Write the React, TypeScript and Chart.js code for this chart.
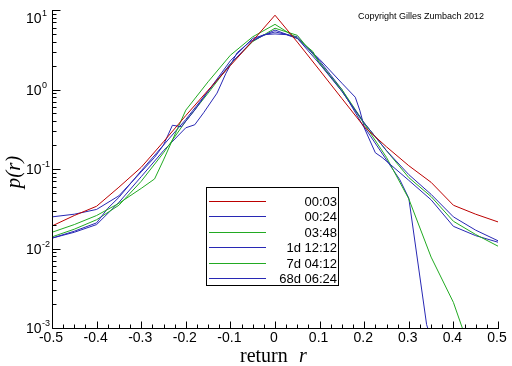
import React, { useEffect, useRef } from 'react';
import { Chart, registerables } from 'chart.js';

Chart.register(...registerables);

// ---- data ----
const seriesLabels = ['00:03', '00:24', '03:48', '1d 12:12', '7d 04:12', '68d 06:24'];
const seriesColors = ['#bc0000', '#2828b4', '#22aa22', '#2828b4', '#22aa22', '#2828b4'];

const r0003 = [-0.5, -0.45, -0.4, -0.35, -0.3, -0.25, -0.2, -0.15, -0.1, -0.05, 0, 0.05, 0.1, 0.15, 0.2, 0.25, 0.3, 0.35, 0.4, 0.45, 0.5];
const p0003 = [0.0192, 0.026, 0.034, 0.059, 0.105, 0.22, 0.47, 0.98, 2.0, 4.1, 8.6, 3.95, 1.75, 0.77, 0.34, 0.19, 0.11, 0.068, 0.035, 0.027, 0.0216];

const r0024 = [-0.5, -0.45, -0.4, -0.35, -0.3, -0.27, -0.25, -0.23, -0.21, -0.18, -0.15, -0.1, -0.05, 0, 0.05, 0.1, 0.15, 0.2, 0.25, 0.3, 0.35, 0.4, 0.45, 0.5];
const p0024 = [0.025, 0.027, 0.031, 0.046, 0.092, 0.14, 0.2, 0.355, 0.34, 0.55, 0.95, 2.1, 4.1, 5.6, 4.4, 2.1, 0.95, 0.38, 0.17, 0.085, 0.048, 0.025, 0.017, 0.0125];

const r0348 = [-0.5, -0.45, -0.4, -0.35, -0.3, -0.27, -0.25, -0.2, -0.15, -0.1, -0.05, 0, 0.05, 0.085, 0.1, 0.15, 0.2, 0.25, 0.3, 0.35, 0.4, 0.45, 0.5];
const p0348 = [0.016, 0.02, 0.026, 0.037, 0.057, 0.075, 0.13, 0.55, 1.25, 2.7, 4.6, 6.6, 4.4, 3.0, 2.1, 1.0, 0.38, 0.17, 0.078, 0.045, 0.022, 0.015, 0.0107];

const r1d = [-0.5, -0.45, -0.4, -0.375, -0.35, -0.3, -0.25, -0.2, -0.15, -0.1, -0.05, 0, 0.05, 0.1, 0.15, 0.2, 0.225, 0.24, 0.3, 0.35, 0.4, 0.45, 0.5];
const p1d = [0.0135, 0.0165, 0.021, 0.032, 0.044, 0.095, 0.2, 0.42, 0.95, 2.3, 4.4, 5.3, 4.6, 2.3, 1.0, 0.33, 0.16, 0.14, 0.072, 0.041, 0.019, 0.0145, 0.012];

const r7d = [-0.5, -0.45, -0.4, -0.35, -0.3, -0.25, -0.2, -0.15, -0.1, -0.05, 0, 0.05, 0.1, 0.15, 0.2, 0.25, 0.3, 0.35, 0.4, 0.42, 0.45];
const p7d = [0.014, 0.0175, 0.023, 0.035, 0.07, 0.16, 0.4, 0.9, 2.1, 4.0, 5.9, 4.8, 2.2, 0.95, 0.37, 0.14, 0.042, 0.0078, 0.0021, 0.001, 0.0004];

const r68d = [-0.5, -0.45, -0.4, -0.35, -0.3, -0.25, -0.2, -0.18, -0.16, -0.13, -0.11, -0.085, -0.056, -0.025, 0, 0.025, 0.05, 0.1, 0.15, 0.18, 0.19, 0.2, 0.25, 0.28, 0.3, 0.34, 0.36];
const p68d = [0.0135, 0.016, 0.02, 0.038, 0.08, 0.17, 0.33, 0.36, 0.51, 0.9, 1.6, 2.9, 4.0, 4.9, 5.0, 4.9, 4.4, 2.4, 1.2, 0.8, 0.55, 0.34, 0.13, 0.073, 0.043, 0.0011, 0.0005];

const seriesR = [r0003, r0024, r0348, r1d, r7d, r68d];
const seriesP = [p0003, p0024, p0348, p1d, p7d, p68d];

const xTickValues = [-0.5, -0.4, -0.3, -0.2, -0.1, 0, 0.1, 0.2, 0.3, 0.4, 0.5];
const xTickLabels = ['-0.5', '-0.4', '-0.3', '-0.2', '-0.1', '0', '0.1', '0.2', '0.3', '0.4', '0.5'];
const yTickValues = [0.001, 0.01, 0.1, 1, 10];
const yTickExponents = ['-3', '-2', '-1', '0', '1'];

const copyrightText = 'Copyright Gilles Zumbach 2012';
const xTitle = 'return';
const xTitleVar = 'r';
const yTitle = 'p(r)';

const decorPlugin = {
  id: 'decor',
  afterDraw(chart: any) {
    const ctx = chart.ctx as CanvasRenderingContext2D;
    const a = chart.chartArea;
    const xs = chart.scales.x;
    const ys = chart.scales.y;
    ctx.save();
    ctx.strokeStyle = '#000';
    ctx.fillStyle = '#000';
    ctx.lineWidth = 1;
    const L = Math.round(a.left) + 0.5;
    const B = Math.round(a.bottom) + 0.5;
    // axis lines
    ctx.beginPath();
    ctx.moveTo(L, Math.round(a.top));
    ctx.lineTo(L, B);
    ctx.lineTo(Math.round(a.right) + 1, B);
    ctx.stroke();
    // y ticks
    ctx.beginPath();
    yTickValues.forEach((d, i) => {
      const y = Math.round(ys.getPixelForValue(d)) + 0.5;
      ctx.moveTo(L, y);
      ctx.lineTo(L + 8, y);
      if (i < yTickValues.length - 1) {
        for (let k = 2; k <= 9; k++) {
          const ym = Math.round(ys.getPixelForValue(d * k)) + 0.5;
          ctx.moveTo(L, ym);
          ctx.lineTo(L + 4, ym);
        }
      }
    });
    // x ticks
    xTickValues.forEach((v, i) => {
      const x = Math.round(xs.getPixelForValue(v)) + 0.5;
      ctx.moveTo(x, B);
      ctx.lineTo(x, B - 7);
      if (i < xTickValues.length - 1) {
        for (let k = 1; k <= 3; k++) {
          const xm = Math.round(xs.getPixelForValue(v + k * 0.025)) + 0.5;
          ctx.moveTo(xm, B);
          ctx.lineTo(xm, B - 4);
        }
      }
    });
    ctx.stroke();

    // y labels
    yTickValues.forEach((d, i) => {
      let y = ys.getPixelForValue(d);
      if (y < 18) y = 18;
      ctx.textAlign = 'left';
      ctx.textBaseline = 'alphabetic';
      ctx.font = '14px "Liberation Sans", Arial, sans-serif';
      ctx.fillText('10', 26, y + 5);
      ctx.font = '9px "Liberation Sans", Arial, sans-serif';
      ctx.fillText(yTickExponents[i], 42, y - 2);
    });
    // x labels
    ctx.font = '14px "Liberation Sans", Arial, sans-serif';
    ctx.textAlign = 'center';
    xTickValues.forEach((v, i) => {
      const x = xs.getPixelForValue(v);
      ctx.fillText(xTickLabels[i], x - 1, 342);
    });

    // x title
    ctx.textAlign = 'left';
    ctx.font = '20px "Liberation Serif", "Times New Roman", serif';
    ctx.fillText(xTitle, 240, 362);
    ctx.font = 'italic 20px "Liberation Serif", "Times New Roman", serif';
    ctx.fillText(xTitleVar, 299, 362);

    // y title
    ctx.save();
    ctx.translate(20, 172);
    ctx.rotate(-Math.PI / 2);
    ctx.textAlign = 'center';
    ctx.font = 'italic 21px "Liberation Serif", "Times New Roman", serif';
    ctx.fillText(yTitle, 0, 0);
    ctx.restore();

    // copyright
    ctx.textAlign = 'left';
    ctx.font = '9px "Liberation Sans", Arial, sans-serif';
    ctx.fillText(copyrightText, 358, 19);

    // legend
    ctx.fillStyle = '#fff';
    ctx.fillRect(207, 188, 131, 97);
    ctx.strokeStyle = '#000';
    ctx.strokeRect(206.5, 187.5, 132, 98);
    ctx.font = '13px "Liberation Sans", Arial, sans-serif';
    ctx.textAlign = 'right';
    ctx.textBaseline = 'middle';
    chart.data.datasets.forEach((ds: any, i: number) => {
      const y = Math.round(201 + i * 15.4) + 0.5;
      ctx.strokeStyle = ds.borderColor;
      ctx.beginPath();
      ctx.moveTo(209, y);
      ctx.lineTo(266, y);
      ctx.stroke();
      ctx.fillStyle = '#000';
      ctx.fillText(ds.label, 337, y + 0.5);
    });
    ctx.restore();
  },
};

export default function App() {
  const ref = useRef<HTMLCanvasElement | null>(null);
  useEffect(() => {
    if (!ref.current) return;
    const datasets = seriesLabels.map((label, i) => ({
      label,
      data: seriesR[i].map((r, j) => ({ x: r, y: seriesP[i][j] })),
      borderColor: seriesColors[i],
      backgroundColor: seriesColors[i],
      borderWidth: 1,
      pointRadius: 0,
      tension: 0,
      fill: false,
    }));
    const chart = new Chart(ref.current, {
      type: 'line',
      data: { datasets },
      options: {
        animation: false,
        responsive: false,
        maintainAspectRatio: false,
        parsing: false as any,
        layout: { padding: { left: 0, right: 14, top: 10, bottom: 0 } },
        plugins: { legend: { display: false }, tooltip: { enabled: false } },
        scales: {
          x: {
            type: 'linear',
            min: -0.5,
            max: 0.5,
            grid: { display: false },
            border: { display: false },
            ticks: { display: false, stepSize: 0.1 },
            afterFit(s: any) { s.height = 38; },
          },
          y: {
            type: 'logarithmic',
            min: 0.001,
            max: 10,
            grid: { display: false },
            border: { display: false },
            ticks: { display: false },
            afterFit(s: any) { s.width = 52; },
          },
        },
      } as any,
      plugins: [decorPlugin],
    });
    return () => chart.destroy();
  }, []);
  return (
    <div style={{ position: 'fixed', left: 0, top: 0, width: 512, height: 366, background: '#fff' }}>
      <canvas ref={ref} width={512} height={366} style={{ width: 512, height: 366, display: 'block' }} />
    </div>
  );
}
